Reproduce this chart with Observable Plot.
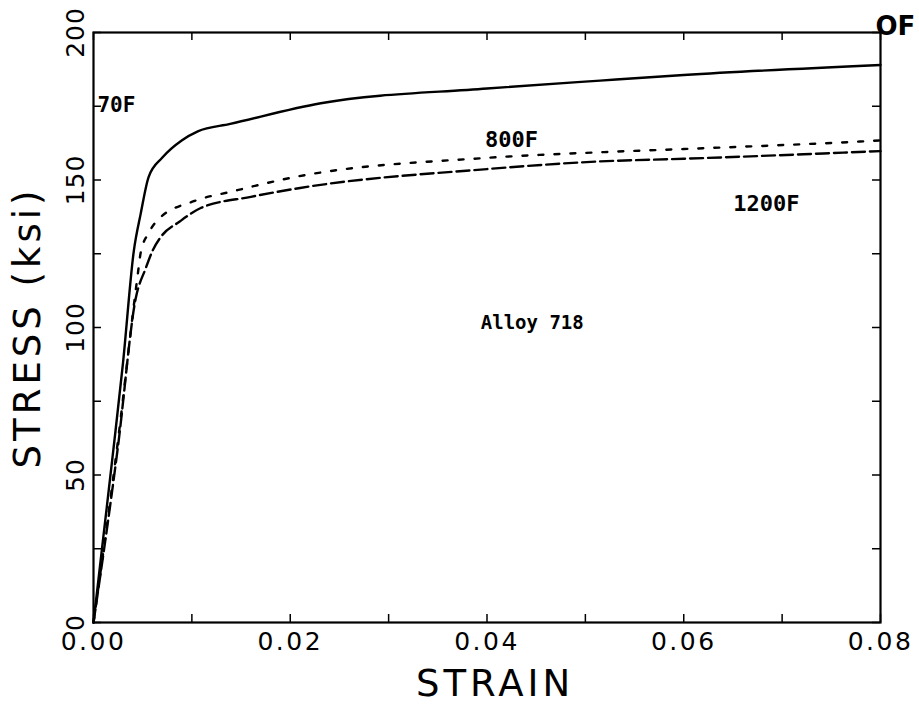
<!DOCTYPE html>
<html>
<head>
<meta charset="utf-8">
<script src="https://cdn.jsdelivr.net/npm/d3@7"></script>
<script src="https://cdn.jsdelivr.net/npm/@observablehq/plot@0.6"></script>
<style>
  html, body { margin: 0; padding: 0; background: #fff; }
  #chart svg { display: block; }
  g[aria-label="x-axis tick label"] text { letter-spacing: 2.5px; }
  .ylab text { letter-spacing: 1px; }
  .axlab text { letter-spacing: 4px; }
</style>
</head>
<body>
<div id="chart"></div>
<script>
// 70F (solid)
const strain70  = [0, 0.001, 0.002, 0.003, 0.0041, 0.0048, 0.0056, 0.0070, 0.0090, 0.0106, 0.0139, 0.0231, 0.040, 0.0515, 0.060, 0.080];
const stress70  = [0, 29, 58, 88, 126, 138.6, 151, 157.6, 163.5, 166.5, 169, 176, 181, 183.7, 185.6, 189];
// 800F (dotted)
const strain800 = [0, 0.0025, 0.0045, 0.0048, 0.0056, 0.0067, 0.0102, 0.0142, 0.020, 0.040, 0.0515, 0.060, 0.0783, 0.080];
const stress800 = [0, 62, 118, 125.4, 132, 137, 142.8, 146.2, 150.7, 157.5, 159.4, 160.5, 163.1, 163.4];
// 1200F (dashed)
const strain1200 = [0, 0.0025, 0.0043, 0.0053, 0.0060, 0.0068, 0.0088, 0.0109, 0.016, 0.021, 0.040, 0.0515, 0.060, 0.080];
const stress1200 = [0, 60, 110, 120, 126, 130.5, 136, 140.5, 144.3, 147.3, 153.7, 156.3, 157.2, 159.8];

// ticks
const xLabelTicks = [0, 0.02, 0.04, 0.06, 0.08];
const xMinorTicks = [0, 0.01, 0.02, 0.03, 0.04, 0.05, 0.06, 0.07, 0.08];
const yLabelTicks = [0, 50, 100, 150, 200];
const yMinorTicks = [0, 25, 50, 75, 100, 125, 150, 175, 200];

// annotations
const noteText = ["70F", "800F", "1200F", "Alloy 718"];
const noteX    = [0.0004, 0.0425, 0.0684, 0.0446];
const noteY    = [175.5, 163.5, 142, 101.4];

const toRows = (xs, ys) => xs.map((x, i) => ({x, y: ys[i]}));
const d70 = toRows(strain70, stress70);
const d800 = toRows(strain800, stress800);
const d1200 = toRows(strain1200, stress1200);
const notes = noteText.map((t, i) => ({t, x: noteX[i], y: noteY[i]}));

const W = 919, H = 707, mL = 93, mR = 39, mT = 32, mB = 85;
const plotW = W - mL - mR, plotH = H - mT - mB;
const tickLen = 8;

const chart = Plot.plot({
  width: W,
  height: H,
  marginLeft: mL,
  marginRight: mR,
  marginTop: mT,
  marginBottom: mB,
  style: {fontFamily: "DejaVu Sans", color: "#000", background: "#fff", overflow: "visible"},
  x: {domain: [0, 0.08]},
  y: {domain: [0, 200]},
  axis: null,
  marks: [
    // inward ticks
    Plot.tickX(xMinorTicks, {x: d => d, insetTop: plotH - tickLen, stroke: "#000", strokeWidth: 1.5}),
    Plot.tickX(xMinorTicks, {x: d => d, insetBottom: plotH - tickLen, stroke: "#000", strokeWidth: 1.5}),
    Plot.tickY(yMinorTicks, {y: d => d, insetRight: plotW - tickLen, stroke: "#000", strokeWidth: 1.5}),
    Plot.tickY(yMinorTicks, {y: d => d, insetLeft: plotW - tickLen, stroke: "#000", strokeWidth: 1.5}),
    Plot.frame({stroke: "#000", strokeWidth: 2.2}),
    Plot.axisX({ticks: xLabelTicks, tickSize: 0, tickPadding: 10, tickFormat: d3.format(".2f"),
                fontSize: 25, label: null}),
    // rotated y tick labels
    Plot.text(yLabelTicks, {x: () => 0, y: d => d, text: d => String(d), rotate: -90,
      textAnchor: "middle", lineAnchor: "bottom", dx: -10, fontSize: 25, fill: "#000", className: "ylab"}),
    // curves
    Plot.line(d70, {x: "x", y: "y", stroke: "#000", strokeWidth: 2.4, curve: "monotone-x"}),
    Plot.line(d800, {x: "x", y: "y", stroke: "#000", strokeWidth: 2.4, strokeDasharray: "5,11", curve: "monotone-x"}),
    Plot.line(d1200, {x: "x", y: "y", stroke: "#000", strokeWidth: 2.4, strokeDasharray: "13,5", curve: "monotone-x"}),
    // annotations
    Plot.text(notes.slice(0, 1), {x: "x", y: "y", text: "t", textAnchor: "start",
      fontFamily: "DejaVu Sans Mono", fontWeight: "bold", fontSize: 21, fill: "#000"}),
    Plot.text(notes.slice(1, 3), {x: "x", y: "y", text: "t", textAnchor: "middle",
      fontFamily: "DejaVu Sans Mono", fontWeight: "bold", fontSize: 22, fill: "#000"}),
    Plot.text(notes.slice(3), {x: "x", y: "y", text: "t", textAnchor: "middle",
      fontFamily: "DejaVu Sans Mono", fontWeight: "bold", fontSize: 19, fill: "#000"}),
    Plot.text(["OF"], {x: () => 0.08, y: () => 200, text: d => d, textAnchor: "start", dx: -5, dy: -6,
      fontFamily: "DejaVu Sans", fontWeight: "bold", fontSize: 26, fill: "#000"}),
    // axis titles
    Plot.text(["STRAIN"], {frameAnchor: "bottom", text: d => d, textAnchor: "middle", lineAnchor: "bottom", dy: 73, dx: 8,
      fontSize: 37, fill: "#000", className: "axlab"}),
    Plot.text(["STRESS (ksi)"], {frameAnchor: "left", text: d => d, rotate: -90, textAnchor: "middle", lineAnchor: "middle", dx: -65,
      fontSize: 37, fill: "#000", className: "axlab"})
  ]
});
document.getElementById("chart").appendChild(chart);
</script>
</body>
</html>
